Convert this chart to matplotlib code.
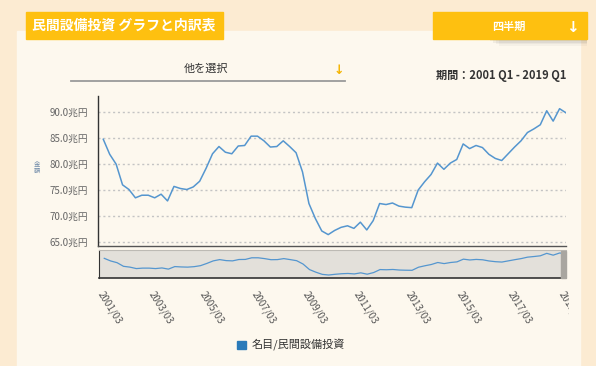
import matplotlib
matplotlib.use("Agg")
import matplotlib.pyplot as plt
from matplotlib.patches import Rectangle
from matplotlib.transforms import Bbox, TransformedBbox

plt.rcParams['font.family'] = ['Noto Sans CJK JP', 'DejaVu Sans']

# 四半期データ（兆円）2001 Q1 - 2019 Q1
values = [
    84.8, 81.9, 80.0, 76.0, 75.1, 73.5, 74.0, 74.0, 73.5, 74.2,
    72.9, 75.7, 75.3, 75.1, 75.6, 76.7, 79.2, 82.0, 83.4, 82.3,
    82.0, 83.5, 83.6, 85.4, 85.4, 84.5, 83.3, 83.4, 84.5, 83.4,
    82.2, 78.5, 72.4, 69.5, 67.1, 66.4, 67.2, 67.8, 68.1, 67.6,
    68.8, 67.3, 69.1, 72.4, 72.2, 72.5, 71.9, 71.7, 71.6, 75.0,
    76.6, 78.0, 80.2, 79.0, 80.2, 80.9, 83.9, 83.0, 83.6, 83.2,
    81.9, 81.1, 80.7, 82.0, 83.3, 84.5, 86.1, 86.8, 87.6, 90.3,
    88.3, 90.7, 89.9,
]
quarters = list(range(len(values)))
ytick_values = [65, 70, 75, 80, 85, 90]
ytick_labels = ['65.0兆円', '70.0兆円', '75.0兆円', '80.0兆円', '85.0兆円', '90.0兆円']
xtick_pos = list(range(0, 73, 8))
xtick_labels = ['2001/03', '2003/03', '2005/03', '2007/03', '2009/03',
                '2011/03', '2013/03', '2015/03', '2017/03', '2019/03']

W, H = 596, 366
OUTER = '#fcebd2'
INNER = '#fdf8ee'
ORANGE = '#fec010'
LINE = '#5596cf'


def fx(x):
    return x / W


def fy(y):
    return 1 - y / H


def box(x0, y0, x1, y1, **kw):
    r = Rectangle((fx(x0), fy(y1)), (x1 - x0) / W, (y1 - y0) / H,
                  transform=fig.transFigure, **kw)
    fig.patches.append(r)
    return r


fig = plt.figure(figsize=(W / 100, H / 100), dpi=100, facecolor=OUTER)

# 背景パネル
box(17, 30.5, 580, 366, color=INNER, zorder=-1)

# タイトル
box(26, 12.3, 222.7, 39.3, color=ORANGE, zorder=1)
fig.text(fx(124), fy(25.5), '民間設備投資 グラフと内訳表', color='white',
         fontsize=10, fontweight='bold', ha='center', va='center')

# 四半期ボタン（影付き）
for i, a in enumerate([0.05, 0.05, 0.04, 0.03]):
    box(490 + i * 3, 39.3, 587.3, 41 + i * 1.5, color='black', alpha=a, lw=0, zorder=1)
box(432.7, 12.3, 587.3, 39.3, color=ORANGE, zorder=2)
fig.text(fx(509), fy(26.5), '四半期', color='white', fontsize=8,
         fontweight='bold', ha='center', va='center')
fig.text(fx(572.5), fy(28), '↓', color='white', fontsize=11,
         fontweight='bold', ha='center', va='center', family='DejaVu Sans')

# 他を選択
fig.text(fx(206), fy(69), '他を選択', color='#333333', fontsize=8,
         ha='center', va='center')
fig.add_artist(plt.Line2D([fx(71), fx(345)], [fy(80.7), fy(80.7)],
                          color='#9a9a9a', lw=1.3, transform=fig.transFigure))
fig.text(fx(339), fy(71), '↓', color='#f5b400', fontsize=9,
         fontweight='bold', ha='center', va='center', family='DejaVu Sans')

# 期間
fig.text(fx(566), fy(75.5), '期間：2001 Q1 - 2019 Q1', color='#333333',
         fontsize=8, fontweight='bold', ha='right', va='center')

# メインチャート
ax = fig.add_axes([fx(98), fy(246), (566 - 98) / W, (246 - 96) / H])
ax.set_facecolor('none')
ax.plot(quarters, values, color=LINE, lw=1.1, zorder=3)
ax.set_xlim(-0.82, 72.0)
ax.set_ylim(64.2, 93.15)
ax.set_yticks(ytick_values)
ax.set_yticklabels(ytick_labels)
ax.tick_params(axis='y', length=0, pad=7, labelsize=7, labelcolor='#666666')
ax.set_xticks([])
ax.grid(axis='y', color='#c4c4c4', lw=1.0, linestyle=(0, (1.5, 2)))
for s in ['top', 'right']:
    ax.spines[s].set_visible(False)
ax.spines['left'].set_color('#333333')
ax.spines['left'].set_linewidth(1.0)
ax.spines['bottom'].set_color('#555555')
ax.spines['bottom'].set_linewidth(1.0)
fig.text(fx(37), fy(167), '金\n額', color='#6a86a6', fontsize=4.5,
         ha='center', va='center', linespacing=1.0)

# ナビゲーター
nav = fig.add_axes([fx(99), fy(278), (566 - 99) / W, (278 - 250) / H])
nav.set_facecolor('#e3e0da')
nav.plot(quarters, values, color=LINE, lw=0.9)
nav.set_xlim(-0.82, 72.0)
nav.set_ylim(63.1, 94.0)
nav.set_yticks([])
nav.set_xticks(xtick_pos)
nav.set_xticklabels(xtick_labels, rotation=-58, ha='left', va='top',
                    rotation_mode='anchor')
nav.tick_params(axis='x', length=0, pad=8, labelsize=7, labelcolor='#555555')
nav.spines['top'].set_color('#bdbab4')
nav.spines['right'].set_visible(False)
nav.spines['left'].set_color('#333333')
nav.spines['bottom'].set_color('#333333')
nav.spines['bottom'].set_linewidth(1.2)
box(560.5, 251, 565.5, 278, color='#a9a6a0', zorder=5)

clip = TransformedBbox(Bbox.from_extents(0, 0, fx(569), 1), fig.transFigure)
for lab in nav.get_xticklabels():
    lab.set_clip_box(clip)
    lab.set_clip_on(True)

# 凡例
box(237, 340.7, 245.7, 349.3, color='#2a7ab9', zorder=2)
fig.text(fx(251.5), fy(345), '名目/民間設備投資', color='#333333', fontsize=8,
         ha='left', va='center')

fig.savefig('out.png', dpi=100, facecolor=OUTER)
